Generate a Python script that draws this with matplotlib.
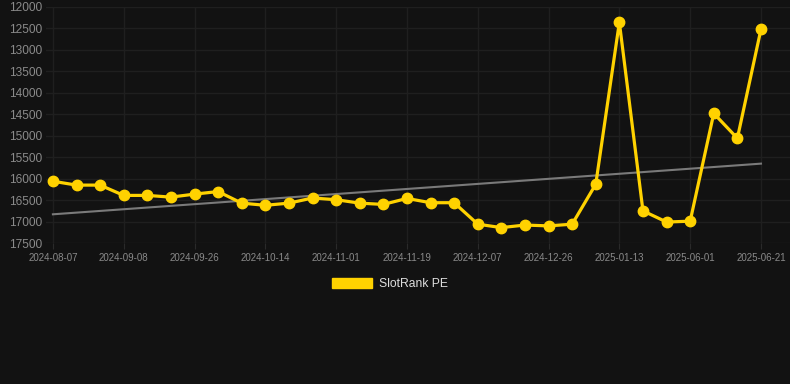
import matplotlib.pyplot as plt
from matplotlib.patches import Patch

# data
dates = ['2024-08-07', '', '', '2024-09-08', '', '', '2024-09-26', '', '', '2024-10-14', '', '',
         '2024-11-01', '', '', '2024-11-19', '', '', '2024-12-07', '', '', '2024-12-26', '', '',
         '2025-01-13', '', '', '2025-06-01', '', '', '2025-06-21']
rank = [16060, 16150, 16150, 16390, 16390, 16430, 16360, 16300, 16570, 16620, 16570,
        16450, 16490, 16570, 16600, 16460, 16560, 16560, 17060, 17140, 17080, 17100,
        17060, 16130, 12360, 16750, 17010, 16990, 14480, 15060, 12520]
trend_start, trend_end = 16830, 15650
y_ticks = [12000, 12500, 13000, 13500, 14000, 14500, 15000, 15500, 16000, 16500, 17000, 17500]

bg = '#121212'
gold = '#FFD200'

fig = plt.figure(figsize=(7.9, 3.84), dpi=100, facecolor=bg)
ax = fig.add_axes([0.058, 0.367, 0.942, 0.615], facecolor=bg)

x = list(range(len(rank)))
ax.plot([0, len(rank) - 1], [trend_start, trend_end], color='#7a7a7a', lw=1.5, zorder=2)
ax.plot(x, rank, color=gold, lw=2.3, marker='o', ms=7.5, solid_joinstyle='miter', zorder=3)

ax.set_ylim(17500, 12000)
ax.set_xlim(-0.3, 31.23)
ax.set_yticks(y_ticks)
ax.set_yticklabels([str(v) for v in y_ticks])
tick_pos = [i for i, d in enumerate(dates) if d]
ax.set_xticks(tick_pos)
ax.set_xticklabels([dates[i] for i in tick_pos])

ax.grid(True, color='#1f1f1f', lw=1)
for s in ax.spines.values():
    s.set_visible(False)
ax.tick_params(axis='y', length=0, colors='#8a8a8a', labelsize=8.6, pad=2.5)
ax.tick_params(axis='x', length=4, color='#2a2a2a', colors='#8a8a8a', labelsize=7, pad=3)
for lab in ax.get_yticklabels() + ax.get_xticklabels():
    lab.set_family('Liberation Sans')

fig.legend(handles=[Patch(color=gold, label='SlotRank PE')], loc='center',
           bbox_to_anchor=(0.494, 0.26), frameon=False, handlelength=3.3,
           handleheight=0.9, handletextpad=0.6,
           prop={'family': 'Liberation Sans', 'size': 8.7}, labelcolor='#dddddd')

fig.savefig('out.png', dpi=100, facecolor=bg)
